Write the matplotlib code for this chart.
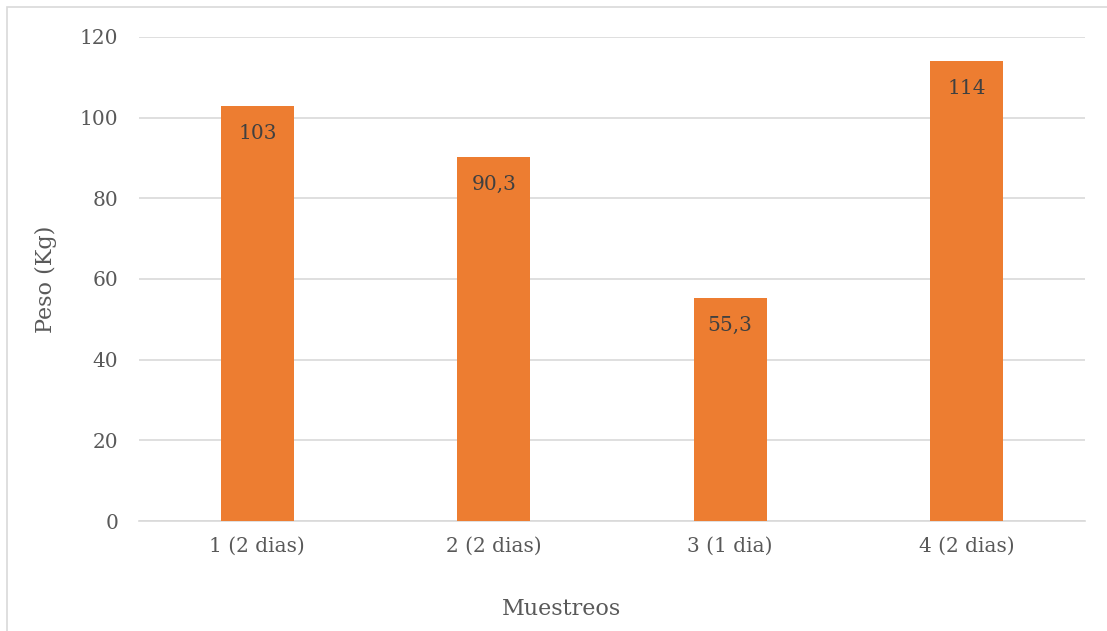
import matplotlib.pyplot as plt
from matplotlib.patches import Rectangle

# data
categorias = ['1 (2 dias)', '2 (2 dias)', '3 (1 dia)', '4 (2 dias)']
pesos = [103, 90.3, 55.3, 114]
etiquetas = ['103', '90,3', '55,3', '114']

plt.rcParams['font.family'] = ['DejaVu Serif']

fig = plt.figure(figsize=(11.07, 6.31), dpi=100)
ax = fig.add_axes([0.1256, 0.1743, 0.8544, 0.7671])

# light frame around the chart area (Excel style)
W, H = 1107, 631
fig.patches.append(Rectangle((7 / W, -0.05), 1.2, 1 - 7 / H + 0.05, transform=fig.transFigure,
                             fill=False, edgecolor='#D9D9D9', linewidth=1.2))

x = range(len(categorias))
ax.bar(x, pesos, width=0.31, color='#ED7D31', zorder=3)

for xi, yi, lab in zip(x, pesos, etiquetas):
    ax.annotate(lab, (xi, yi), xytext=(0, -20), textcoords='offset points',
                ha='center', va='center', fontsize=14.5, color='#404040', zorder=4)

ax.set_xlim(-0.5, 3.5)
ax.set_ylim(0, 120)
ax.set_yticks(range(0, 121, 20))
ax.set_xticks(list(x))
ax.set_xticklabels(categorias)
ax.yaxis.grid(True, color='#D9D9D9', linewidth=1.2, zorder=0)
ax.set_axisbelow(True)
for s in ['top', 'right', 'left']:
    ax.spines[s].set_visible(False)
ax.spines['bottom'].set_color('#D9D9D9')
ax.spines['bottom'].set_linewidth(1.2)
ax.tick_params(axis='both', length=0, labelsize=14.5, labelcolor='#595959')
ax.tick_params(axis='y', pad=15)
ax.tick_params(axis='x', pad=11)

ax.set_ylabel('Peso (Kg)', fontsize=16, color='#595959', labelpad=16)
ax.set_xlabel('Muestreos', fontsize=16, color='#595959', labelpad=28)
ax.xaxis.set_label_coords(0.447, -0.16)

fig.savefig('out.png', dpi=100)
